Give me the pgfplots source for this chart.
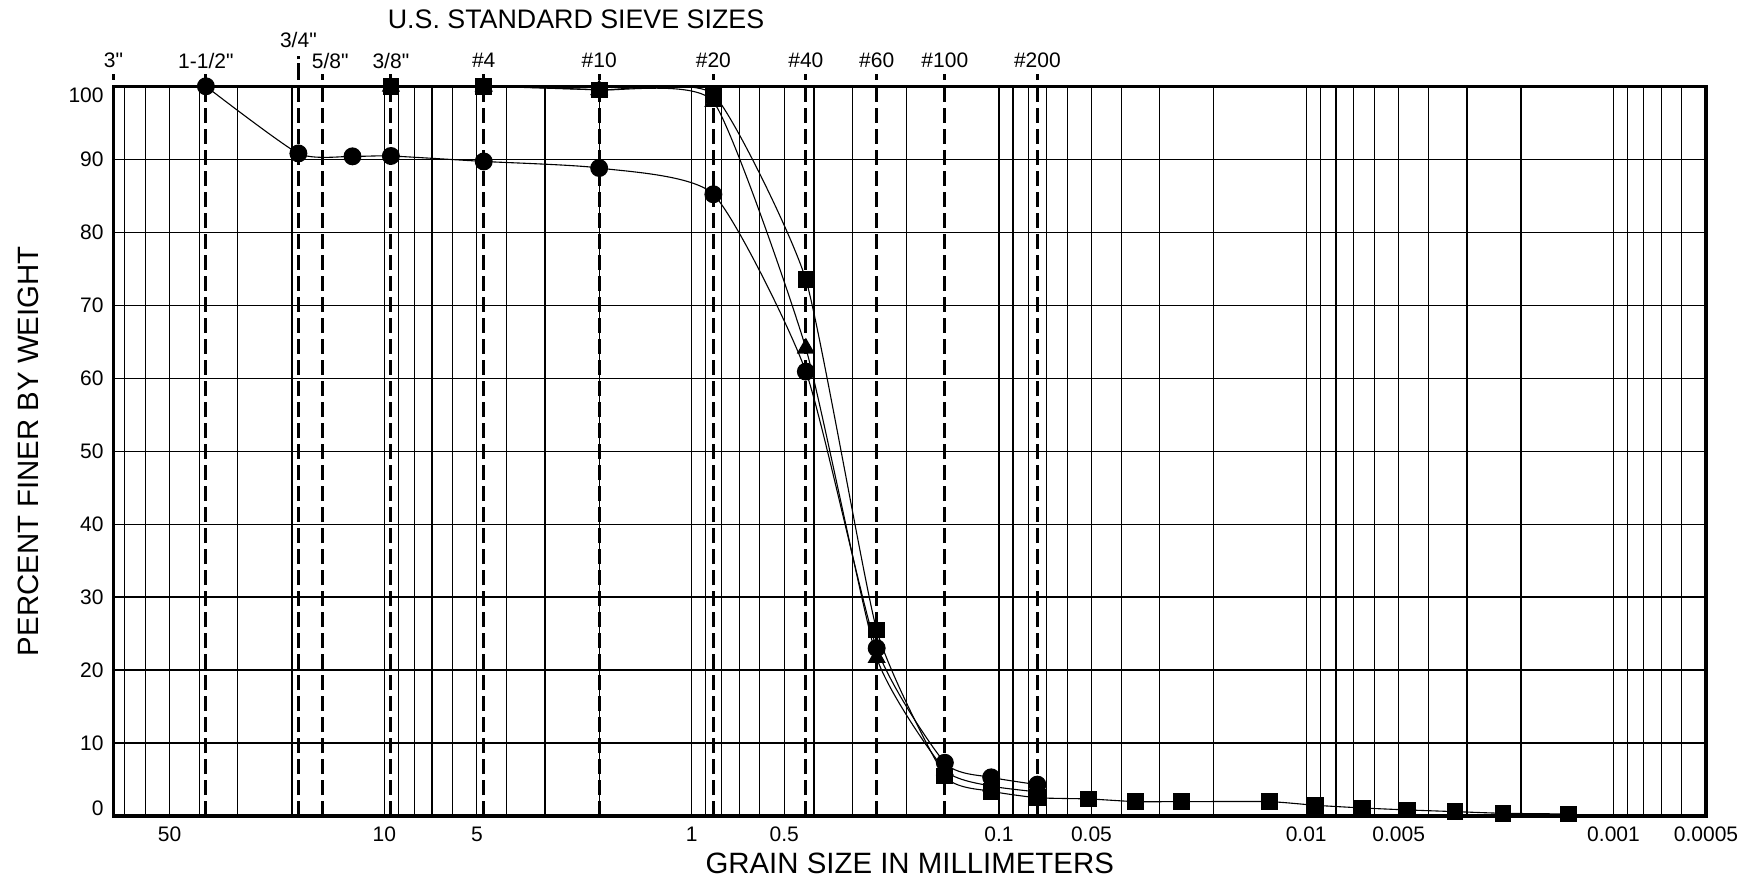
\documentclass[border=0pt]{standalone}
\usepackage{fontspec}
\setmainfont{Liberation Sans}[Ligatures=TeXOff]
\usepackage{pgfplots}
\pgfplotsset{compat=1.18}
\begin{document}
\begin{tikzpicture}
\tikzset{sieve/.style={black, line width=1.4pt, dash pattern=on 7.5pt off 3pt},
         sievetick/.style={black, line width=1.4pt},
         slab/.style={font=\fontsize{10.5}{12}\selectfont, inner sep=0pt, anchor=center}}
\begin{axis}[
  at={(0,0)}, anchor=south west,
  scale only axis, width=796.3pt, height=364.85pt,
  xmode=log, log basis x=10, x dir=reverse,
  xmin=0.0005, xmax=76.2, ymin=0, ymax=100,
  xtick={50,10,5,1,0.5,0.1,0.05,0.01,0.005,0.001,0.0005},
  xticklabels={50,10,5,1,0.5,0.1,0.05,0.01,0.005,0.001,0.0005},
  minor xtick={0.0006,0.0007,0.0008,0.0009,0.001,0.002,0.003,0.004,0.005,0.006,0.007,0.008,0.009,
               0.01,0.02,0.03,0.04,0.05,0.06,0.07,0.08,0.09,0.1,0.2,0.3,0.4,0.5,0.6,0.7,0.8,0.9,
               1,2,3,4,5,6,7,8,9,10,20,30,40,50,60,70},
  ytick={0,10,20,30,40,50,60,70,80,90,100},
  yticklabels={\raisebox{4pt}[7.5pt][0pt]{0},10,20,30,40,50,60,70,80,90,\raisebox{-4.3pt}[7.5pt][0pt]{100}},
  xminorgrids=true, xmajorgrids=false, ymajorgrids=true,
  major tick length=0pt, minor tick length=0pt,
  major grid style={black, line width=0.6pt},
  minor grid style={black, line width=0.6pt},
  axis line style={black, line width=1.7pt},
  tick label style={font=\fontsize{10.5}{12}\selectfont},
  xticklabel style={anchor=center, inner sep=0pt, yshift=-9pt},
  yticklabel style={anchor=east, inner sep=0pt, xshift=-4.7pt},
  clip=false,
]
% sieve lines
\draw[sieve] (axis cs:38.1,0) -- (axis cs:38.1,100);
\draw[sieve] (axis cs:19.05,0) -- (axis cs:19.05,100);
\draw[sieve] (axis cs:15.875,0) -- (axis cs:15.875,100);
\draw[sieve] (axis cs:9.525,0) -- (axis cs:9.525,100);
\draw[sieve] (axis cs:4.75,0) -- (axis cs:4.75,100);
\draw[sieve] (axis cs:2.0,0) -- (axis cs:2.0,100);
\draw[sieve] (axis cs:0.85,0) -- (axis cs:0.85,100);
\draw[sieve] (axis cs:0.425,0) -- (axis cs:0.425,100);
\draw[sieve] (axis cs:0.25,0) -- (axis cs:0.25,100);
\draw[sieve] (axis cs:0.15,0) -- (axis cs:0.15,100);
\draw[sieve] (axis cs:0.075,0) -- (axis cs:0.075,100);
% short ticks above the top
\draw[sievetick] (axis cs:76.2,100.88) -- (axis cs:76.2,101.7);
\draw[sievetick] (axis cs:38.1,100.88) -- (axis cs:38.1,101.7);
\draw[sievetick] (axis cs:19.05,100.88) -- (axis cs:19.05,103.15);
\draw[sievetick] (axis cs:19.05,103.7) -- (axis cs:19.05,104.1);
\draw[sievetick] (axis cs:15.875,100.88) -- (axis cs:15.875,101.7);
\draw[sievetick] (axis cs:9.525,100.88) -- (axis cs:9.525,101.7);
\draw[sievetick] (axis cs:4.75,100.88) -- (axis cs:4.75,101.7);
\draw[sievetick] (axis cs:2.0,100.88) -- (axis cs:2.0,101.7);
\draw[sievetick] (axis cs:0.85,100.88) -- (axis cs:0.85,101.7);
\draw[sievetick] (axis cs:0.425,100.88) -- (axis cs:0.425,101.7);
\draw[sievetick] (axis cs:0.25,100.88) -- (axis cs:0.25,101.7);
\draw[sievetick] (axis cs:0.15,100.88) -- (axis cs:0.15,101.7);
\draw[sievetick] (axis cs:0.075,100.88) -- (axis cs:0.075,101.7);
% sieve labels
\node[slab, yshift=12.8pt] at (axis cs:76.2,100) {3"};
\node[slab, yshift=12.8pt] at (axis cs:38.1,100) {1-1/2"};
\node[slab, yshift=23.2pt] at (axis cs:19.05,100) {3/4"};
\node[slab, yshift=12.8pt] at (axis cs:15.0,100) {5/8"};
\node[slab, yshift=12.8pt] at (axis cs:9.525,100) {3/8"};
\node[slab, yshift=12.8pt] at (axis cs:4.75,100) {\#4};
\node[slab, yshift=12.8pt] at (axis cs:2.0,100) {\#10};
\node[slab, yshift=12.8pt] at (axis cs:0.85,100) {\#20};
\node[slab, yshift=12.8pt] at (axis cs:0.425,100) {\#40};
\node[slab, yshift=12.8pt] at (axis cs:0.25,100) {\#60};
\node[slab, yshift=12.8pt] at (axis cs:0.15,100) {\#100};
\node[slab, yshift=12.8pt] at (axis cs:0.075,100) {\#200};
% data
\addplot[black, line width=0.55pt, smooth, tension=0.3, mark=square*, mark size=3.9pt, mark options={solid}] coordinates {
 (9.525,100) (4.75,100) (2.0,99.5) (0.85,98.9) (0.425,73.5) (0.25,25.5) (0.15,5.5) (0.106,3.4) (0.075,2.5)
 (0.051,2.34) (0.036,1.97) (0.0255,1.97) (0.0132,1.97) (0.00935,1.47) (0.00656,1.1) (0.00468,0.83)
 (0.00328,0.6) (0.00229,0.37) (0.0014,0.28)};
\addplot[black, line width=0.55pt, smooth, tension=0.3, mark=triangle*, mark size=4.7pt, mark options={solid}] coordinates {
 (9.525,100) (4.75,100) (2.0,99.5) (0.85,97.9) (0.425,64.1) (0.25,21.7) (0.15,6.3) (0.106,4.1) (0.075,3.3)};
\addplot[black, line width=0.55pt, smooth, tension=0.35, mark=*, mark size=4.2pt, mark options={solid}] coordinates {
 (38.1,100) (19.05,90.8) (12.7,90.4) (9.525,90.45) (4.75,89.7) (2.0,88.8) (0.85,85.2) (0.425,60.9)
 (0.25,23.0) (0.15,7.3) (0.106,5.3) (0.075,4.3)};
\end{axis}
\node[font=\fontsize{13.4}{15}\selectfont] at (231.3pt,398.5pt) {U.S. STANDARD SIEVE SIZES};
\node[font=\fontsize{14.7}{17}\selectfont] at (398.15pt,-23.5pt) {GRAIN SIZE IN MILLIMETERS};
\node[font=\fontsize{14.7}{17}\selectfont, rotate=90] at (-42.7pt,182.4pt) {PERCENT FINER BY WEIGHT};
\pgfresetboundingbox
\path[use as bounding box] (-56.7pt,-31.5pt) rectangle (823.3pt,408pt);
\end{tikzpicture}
\end{document}
